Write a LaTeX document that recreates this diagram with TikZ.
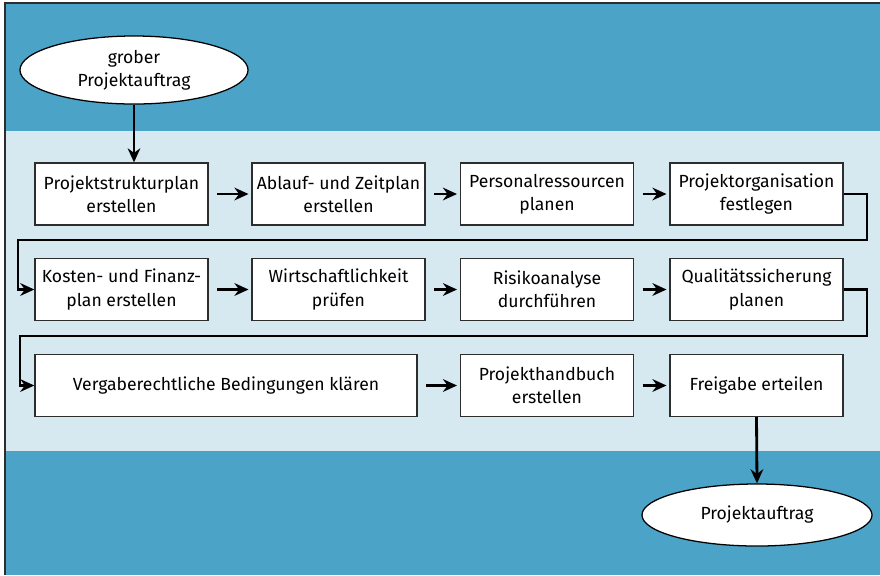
\documentclass[tikz,border=0pt]{standalone}
\usepackage{fontspec}
\setmainfont{Fira Sans}
\usetikzlibrary{shapes.geometric,arrows.meta}

\definecolor{blaudunkel}{RGB}{75,163,199}
\definecolor{blauhell}{RGB}{214,233,241}
\definecolor{rahmen}{RGB}{45,45,45}

\tikzset{
    schritt/.style={draw=rahmen, line width=0.9pt, fill=white, rectangle, align=center,
        minimum width=4.325cm, minimum height=1.55cm, inner sep=2pt,
        font=\fontsize{12.5}{16.5}\selectfont},
    auftrag/.style={draw=black, line width=0.9pt, fill=white, ellipse, align=center,
        inner sep=0pt, font=\fontsize{12.5}{16.5}\selectfont},
    pfeil/.style={-{Stealth[length=10pt,width=9pt]}, line width=2pt},
    umbruch/.style={-{Stealth[length=10pt,width=9pt]}, line width=1.6pt, draw=black}
}

\begin{document}
\begin{tikzpicture}[x=0.025cm, y=-0.025cm]
    \useasboundingbox (0, 0) rectangle (880, 575);

    % Hintergrund
    \fill [blaudunkel] (5, 3) rectangle (880, 575);
    \fill [blauhell] (5, 131) rectangle (880, 451);
    \draw [rahmen, line width=1.2pt] (5, 575) -- (5, 3) -- (880, 3);

    % Start und Ende
    \node [auftrag, minimum width=5.7cm, minimum height=1.7cm] (grob) at (134, 70) {grober \\ Projektauftrag};
    \node [auftrag, minimum width=5.75cm, minimum height=1.55cm] (ende) at (757, 515) {Projektauftrag};

    % erste Reihe
    \node [schritt] (psp) at (121.5, 194) {Projektstrukturplan \\ erstellen};
    \node [schritt] (zeit) at (338.5, 194) {Ablauf- und Zeitplan \\ erstellen};
    \node [schritt] (personal) at (547, 194) {Personalressourcen \\ planen};
    \node [schritt] (orga) at (756.5, 194) {Projektorganisation \\ festlegen};

    % zweite Reihe
    \node [schritt] (kosten) at (121.5, 289.5) {Kosten- und Finanz- \\ plan erstellen};
    \node [schritt] (wirtschaft) at (338.5, 289.5) {Wirtschaftlichkeit \\ prüfen};
    \node [schritt] (risiko) at (547, 289.5) {Risikoanalyse \\ durchführen};
    \node [schritt] (qualitaet) at (756.5, 289.5) {Qualitätssicherung \\ planen};

    % dritte Reihe
    \node [schritt, minimum width=9.55cm] (vergabe) at (226, 385.5) {Vergaberechtliche Bedingungen klären};
    \node [schritt] (handbuch) at (547, 385.5) {Projekthandbuch \\ erstellen};
    \node [schritt] (freigabe) at (756.5, 385.5) {Freigabe erteilen};

    % Pfeile
    \draw [pfeil] (grob.south) -- (grob.south |- psp.north);
    \draw [pfeil, shorten <=6pt, shorten >=2pt] (psp) -- (zeit);
    \draw [pfeil, shorten <=6pt, shorten >=2pt] (zeit) -- (personal);
    \draw [pfeil, shorten <=6pt, shorten >=2pt] (personal) -- (orga);
    \draw [pfeil, shorten <=6pt, shorten >=2pt] (kosten) -- (wirtschaft);
    \draw [pfeil, shorten <=6pt, shorten >=2pt] (wirtschaft) -- (risiko);
    \draw [pfeil, shorten <=6pt, shorten >=2pt] (risiko) -- (qualitaet);
    \draw [pfeil, shorten <=6pt, shorten >=2pt] (vergabe) -- (handbuch);
    \draw [pfeil, shorten <=6pt, shorten >=2pt] (handbuch) -- (freigabe);
    \draw [pfeil] (freigabe.south) -- (ende.north);

    % Zeilenumbrueche
    \draw [umbruch] (orga.east) -- ++(23, 0) |- (18, 240) |- (kosten.west);
    \draw [umbruch] (qualitaet.east) -- ++(23, 0) |- (20, 336) |- (vergabe.west);

\end{tikzpicture}
\end{document}
